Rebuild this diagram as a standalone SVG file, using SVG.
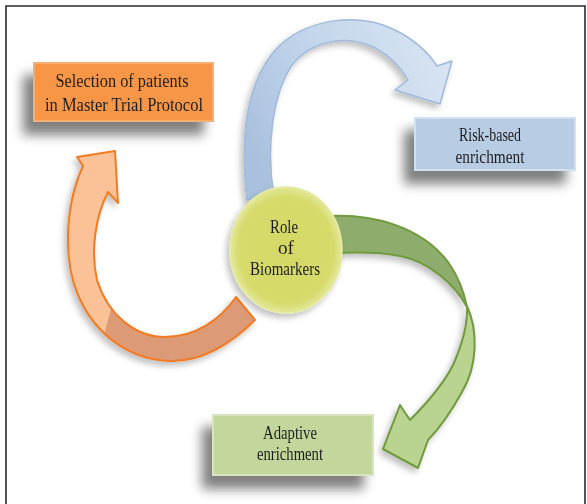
<svg xmlns="http://www.w3.org/2000/svg" width="587" height="504" viewBox="0 0 587 504">
<defs>
<style>
text{font-family:"Liberation Serif","Times New Roman",serif;fill:#1f1f1f;text-anchor:middle;font-size:18.5px}
.frame{fill:none;stroke:#2a2a2a;stroke-width:1.6}
</style>
<filter id="sh" x="-30%" y="-30%" width="160%" height="200%">
<feGaussianBlur in="SourceAlpha" stdDeviation="6"/>
<feOffset dx="-10" dy="13"/>
<feComponentTransfer><feFuncA type="linear" slope="0.5"/></feComponentTransfer>
<feMerge><feMergeNode/><feMergeNode in="SourceGraphic"/></feMerge>
</filter>
<filter id="ash" x="-20%" y="-20%" width="140%" height="140%">
<feGaussianBlur in="SourceAlpha" stdDeviation="3"/>
<feOffset dx="-3" dy="4"/>
<feComponentTransfer><feFuncA type="linear" slope="0.25"/></feComponentTransfer>
<feMerge><feMergeNode/><feMergeNode in="SourceGraphic"/></feMerge>
</filter>
<linearGradient id="gBlue" gradientUnits="userSpaceOnUse" x1="250" y1="150" x2="440" y2="60">
<stop offset="0" stop-color="#A9C1DE"/><stop offset="0.5" stop-color="#C4D6EC"/><stop offset="1" stop-color="#D6E3F2"/>
</linearGradient>
<linearGradient id="gOr" gradientUnits="userSpaceOnUse" x1="100" y1="320" x2="115" y2="324">
<stop offset="0.45" stop-color="#FBC197"/><stop offset="0.55" stop-color="#DC9A76"/>
</linearGradient>
<radialGradient id="gCirc" cx="0.5" cy="0.5" r="0.5">
<stop offset="0" stop-color="#D3D865"/><stop offset="0.85" stop-color="#D6DB6C"/><stop offset="1" stop-color="#E4E89A"/>
</radialGradient>
</defs>
<rect width="587" height="504" fill="#ffffff"/>
<path class="frame" d="M6 504 V6 H585 V504"/>

<g id="connectors">
<g id="arrow-blue" filter="url(#ash)">
<path d="M 247 200 C 240 140, 245 80, 280 45 C 310 18, 360 12, 395 30 C 415 40, 428 52, 437 66 L 452 61 L 440 104 L 395 90 L 408 80 C 400 66, 390 56, 375 48 C 345 33, 310 42, 292 65 C 272 95, 266 150, 274 196 Z" fill="url(#gBlue)" stroke="#9FBADA" stroke-width="1.5" stroke-linejoin="round"/>
</g>
<g id="arrow-orange" filter="url(#ash)">
<path d="M 255 320 C 230 345, 200 362, 170 361 C 130 360, 95 335, 78 295 C 63 260, 65 205, 83 166 L 77 157 L 115 151 L 118 203 L 108 192 C 96 215, 90 250, 97 280 C 108 315, 135 337, 165 337 C 195 337, 220 320, 236 297 Z" fill="url(#gOr)" stroke="#F37B22" stroke-width="2" stroke-linejoin="round"/>
</g>
<g id="arrow-green" filter="url(#ash)">
<path d="M 330 216 C 370 214, 420 225, 448 262 C 458 276, 464 292, 467 307 C 455 285, 430 262, 400 256 C 380 252, 360 252, 336 253 Z" fill="#8EAC6C" stroke="#6F9A3E" stroke-width="2" stroke-linejoin="round"/>
<path d="M 467 306 C 478 330, 478 365, 462 392 C 452 410, 440 428, 428 440 L 418 468 L 383 449 L 400 405 L 410 420 C 425 405, 443 385, 453 365 C 462 345, 468 325, 467 306 Z" fill="#B9D491" stroke="#6F9A3E" stroke-width="2" stroke-linejoin="round"/>
</g>
</g>

<g id="node-selection" filter="url(#sh)">
<rect x="34" y="63" width="179" height="58" fill="#F79646" stroke="#F9AE72" stroke-width="2"/>
<text x="122" y="87" textLength="133" lengthAdjust="spacingAndGlyphs">Selection of patients</text>
<text x="124" y="111" textLength="158" lengthAdjust="spacingAndGlyphs">in Master Trial Protocol</text>
</g>

<g id="node-risk" filter="url(#sh)">
<rect x="415" y="118" width="160" height="52" fill="#B8CCE4" stroke="#D3E0F0" stroke-width="2"/>
<text x="490" y="141" textLength="62" lengthAdjust="spacingAndGlyphs">Risk-based</text>
<text x="490" y="163" textLength="69" lengthAdjust="spacingAndGlyphs">enrichment</text>
</g>

<g id="node-adaptive" filter="url(#sh)">
<rect x="213" y="415" width="160" height="60" fill="#C3D69B" stroke="#D7E4BD" stroke-width="2"/>
<text x="290" y="439" textLength="54" lengthAdjust="spacingAndGlyphs">Adaptive</text>
<text x="290" y="460" textLength="66" lengthAdjust="spacingAndGlyphs">enrichment</text>
</g>

<g id="node-role" filter="url(#ash)">
<ellipse cx="286" cy="250" rx="56" ry="63" fill="url(#gCirc)" stroke="#E6EAA4" stroke-width="1.5"/>
<text x="284" y="233" textLength="28" lengthAdjust="spacingAndGlyphs">Role</text>
<text x="286" y="254" textLength="16" lengthAdjust="spacingAndGlyphs">of</text>
<text x="285" y="275" textLength="70" lengthAdjust="spacingAndGlyphs">Biomarkers</text>
</g>
</svg>
